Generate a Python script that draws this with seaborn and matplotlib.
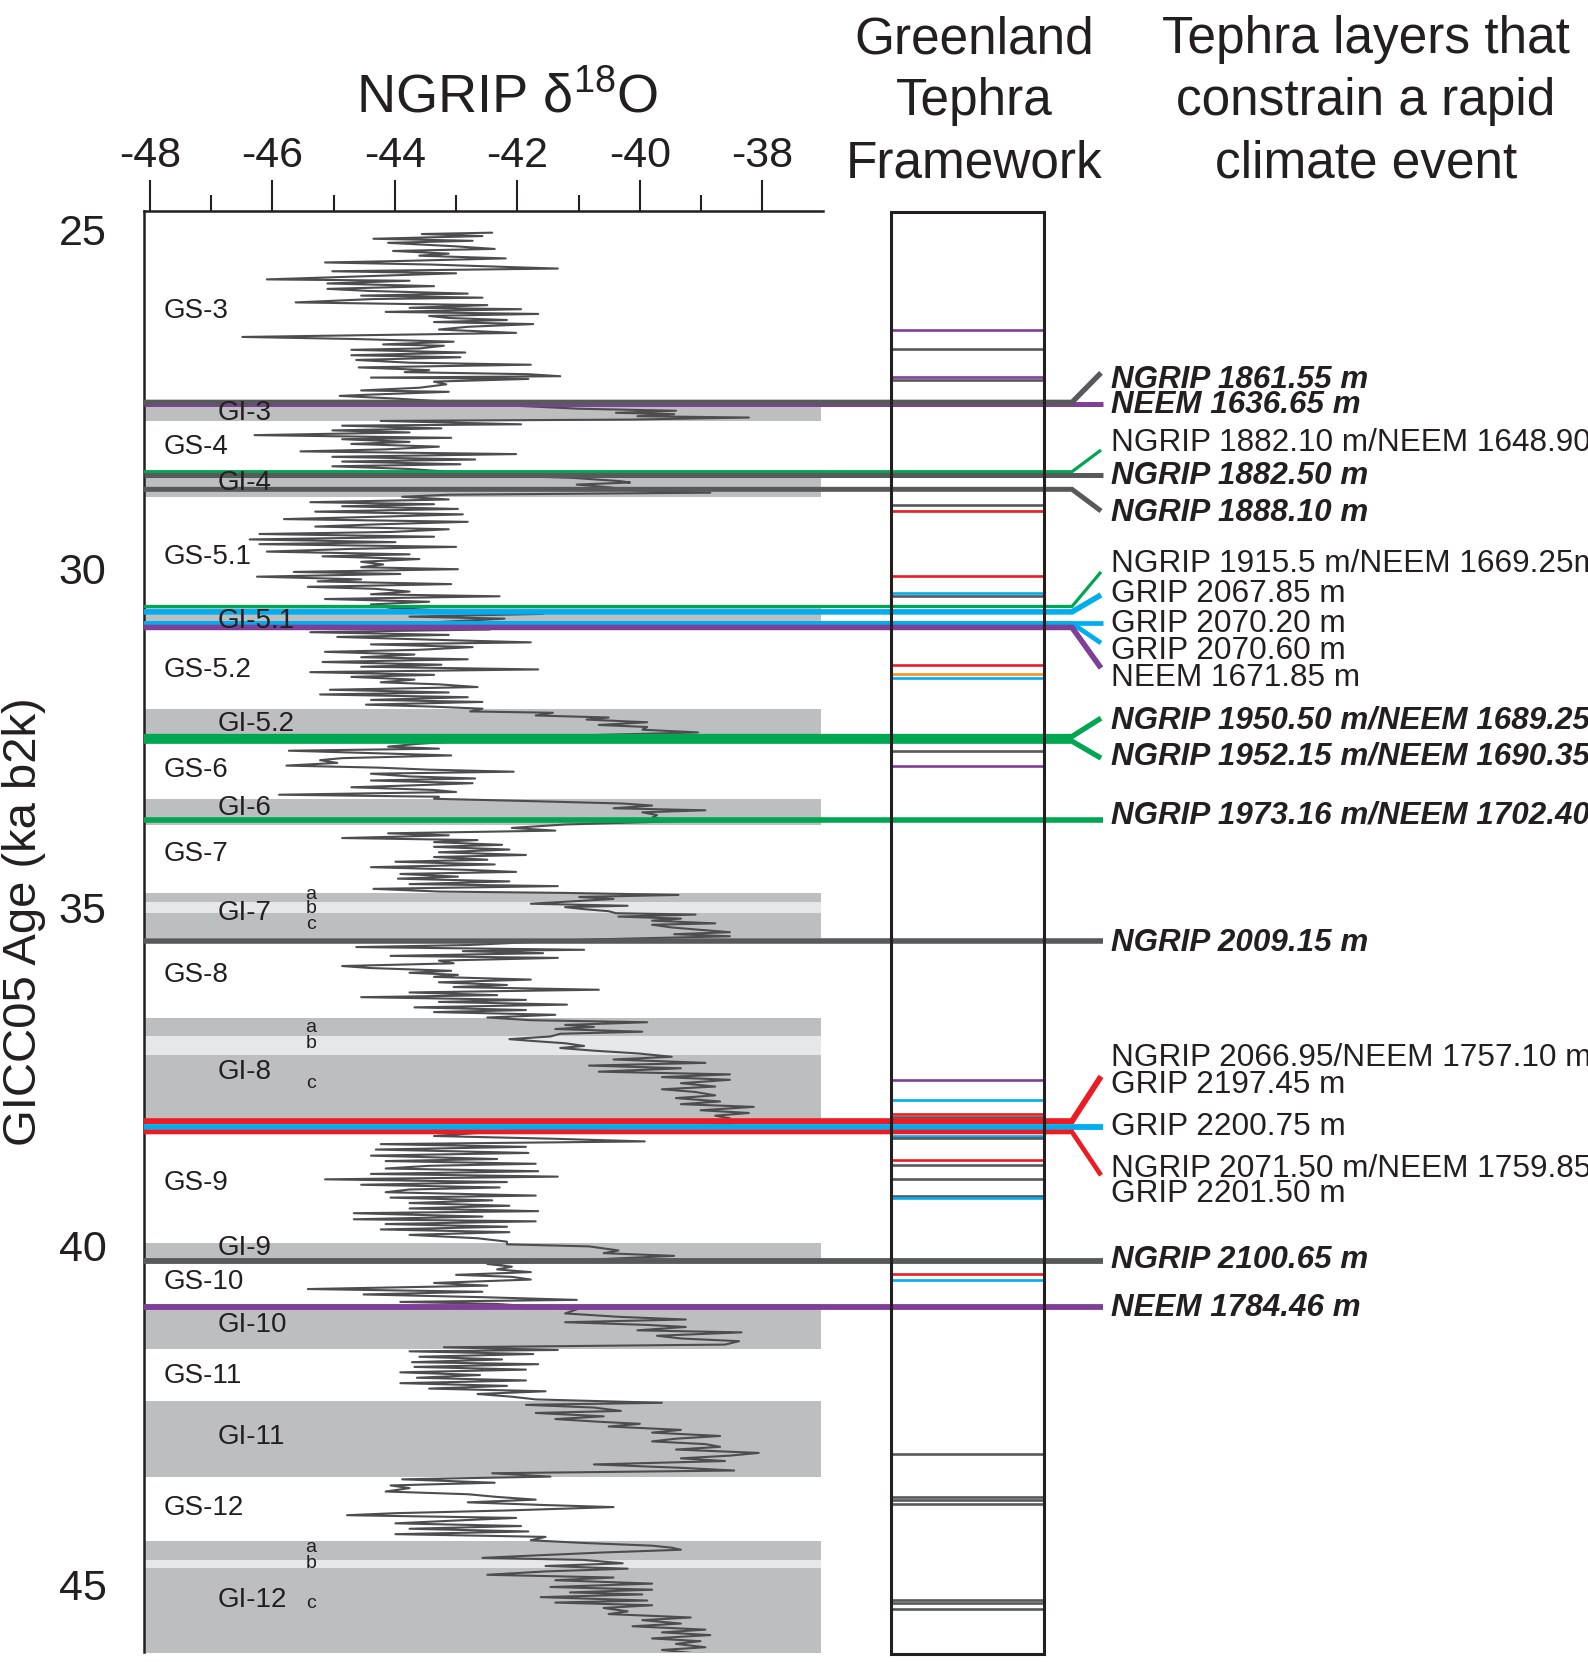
import matplotlib
matplotlib.use("Agg")
import matplotlib.pyplot as plt
import seaborn as sns
import pandas as pd
from matplotlib.patches import Rectangle
from matplotlib.ticker import FixedLocator

sns.set_style("white")
plt.rcParams['font.family'] = ['Liberation Sans', 'DejaVu Sans']
plt.rcParams['axes.unicode_minus'] = False
plt.rcParams['mathtext.fontset'] = 'custom'
plt.rcParams['mathtext.rm'] = 'Liberation Sans'
plt.rcParams['mathtext.default'] = 'regular'

W, H, DPI = 1588, 1662, 100

# ---------------- data ----------------
age = [25.04, 25.06, 25.09, 25.13, 25.16, 25.19, 25.24, 25.28, 25.31, 25.35, 25.38, 25.42, 25.46, 25.48, 25.51, 25.57, 25.61, 25.64, 25.68, 25.73,
       25.75, 25.79, 25.83, 25.87, 25.90, 25.94, 25.97, 26.00, 26.02, 26.07, 26.11, 26.15, 26.17, 26.21, 26.24, 26.27, 26.30, 26.33, 26.36, 26.39,
       26.43, 26.47, 26.52, 26.54, 26.58, 26.61, 26.65, 26.69, 26.71, 26.75, 26.77, 26.81, 26.85, 26.88, 26.92, 26.96, 26.99, 27.03, 27.07, 27.10,
       27.13, 27.16, 27.18, 27.20, 27.24, 27.28, 27.33, 27.37, 27.39, 27.43, 27.45, 27.49,
       27.60, 27.64, 27.67, 27.70, 27.72, 27.75, 27.77, 27.80, 27.82,
       27.87, 27.89, 27.93, 27.96, 27.99, 28.03, 28.07, 28.09, 28.13, 28.16, 28.20, 28.24, 28.27, 28.31, 28.35, 28.39, 28.42, 28.46, 28.49, 28.53,
       28.56, 28.62, 28.66, 28.71, 28.73, 28.76, 28.80, 28.85, 28.88, 28.91, 28.94,
       28.98, 29.02, 29.05, 29.08, 29.12, 29.16, 29.20, 29.23, 29.27, 29.31, 29.35, 29.38, 29.42, 29.46, 29.49, 29.53, 29.57, 29.61, 29.64, 29.68,
       29.71, 29.75, 29.79, 29.82, 29.86, 29.90, 29.94, 29.98, 30.01, 30.05, 30.08, 30.12, 30.16, 30.19, 30.23, 30.27, 30.30, 30.34, 30.38, 30.41,
       30.45, 30.49, 30.53,
       30.58, 30.62, 30.67, 30.71, 30.74, 30.79, 30.84, 30.90, 30.94,
       30.98, 31.01, 31.05, 31.09, 31.12, 31.16, 31.20, 31.23, 31.27, 31.31, 31.34, 31.38, 31.42, 31.45, 31.49, 31.53, 31.57, 31.60, 31.64, 31.68,
       31.71, 31.75, 31.79, 31.83, 31.86, 31.90, 31.94, 31.97, 32.01, 32.04, 32.07,
       32.11, 32.13, 32.17, 32.20, 32.23, 32.27, 32.31, 32.34, 32.38, 32.42, 32.48,
       32.59, 32.63, 32.66, 32.69, 32.72, 32.76, 32.80, 32.83, 32.87, 32.91, 32.94, 32.97, 33.00, 33.03, 33.07, 33.10, 33.13, 33.17, 33.20, 33.23,
       33.27, 33.30, 33.34, 33.37, 33.40,
       33.44, 33.47, 33.50, 33.54, 33.57, 33.60, 33.64, 33.68, 33.73, 33.78, 33.83,
       33.87, 33.91, 33.94, 33.98, 34.01, 34.04, 34.08, 34.11, 34.15, 34.19, 34.23, 34.26, 34.30, 34.33, 34.37, 34.41, 34.45, 34.48, 34.51, 34.55,
       34.58, 34.62, 34.66, 34.69, 34.73, 34.77,
       34.79, 34.82, 34.85, 34.88, 34.92, 34.95, 34.98, 35.00, 35.03, 35.06, 35.09, 35.11, 35.14, 35.17, 35.20, 35.24, 35.26, 35.30, 35.33, 35.37,
       35.40, 35.43, 35.48,
       35.56, 35.59, 35.63, 35.65, 35.68, 35.72, 35.75, 35.79, 35.83, 35.87, 35.90, 35.94, 35.97, 36.00, 36.03, 36.07, 36.11, 36.15, 36.18, 36.22,
       36.26, 36.30, 36.33, 36.37, 36.40, 36.44, 36.48, 36.52, 36.55, 36.59, 36.63,
       36.67, 36.70, 36.74, 36.77, 36.80, 36.84, 36.87, 36.91, 36.95, 36.98, 37.01, 37.05, 37.08, 37.12, 37.16, 37.21, 37.25, 37.30, 37.34, 37.38,
       37.43, 37.47, 37.51, 37.55, 37.60, 37.65, 37.69, 37.73, 37.78, 37.82, 37.87, 37.91, 37.95, 38.00, 38.04, 38.08, 38.12, 38.22, 38.30,
       38.38, 38.42, 38.46, 38.50, 38.54, 38.58, 38.63, 38.67, 38.72, 38.75, 38.79, 38.82, 38.86, 38.90, 38.94, 38.98, 39.02, 39.06, 39.10, 39.14,
       39.17, 39.21, 39.26, 39.29, 39.33, 39.37, 39.41, 39.45, 39.49, 39.52, 39.57, 39.61, 39.64, 39.68, 39.72, 39.76, 39.80, 39.84, 39.89, 39.94,
       39.98, 40.01, 40.07, 40.11, 40.15, 40.21,
       40.27, 40.31, 40.35, 40.39, 40.43, 40.46, 40.50, 40.55, 40.59, 40.64, 40.68, 40.72, 40.76, 40.80, 40.83, 40.86,
       40.94, 41.00, 41.05, 41.09, 41.13, 41.17, 41.20, 41.25, 41.28, 41.33, 41.37, 41.41, 41.46, 41.50, 41.54,
       41.56, 41.60, 41.64, 41.68, 41.72, 41.75, 41.79, 41.83, 41.87, 41.91, 41.95, 41.99, 42.03, 42.07, 42.11, 42.15, 42.19, 42.23, 42.27,
       42.32, 42.35, 42.39, 42.44, 42.47, 42.52, 42.56, 42.60, 42.63, 42.67, 42.72, 42.76, 42.81, 42.85, 42.89, 42.93, 42.97, 43.01, 43.06, 43.10,
       43.14, 43.18, 43.23, 43.28, 43.32, 43.36, 43.41,
       43.45, 43.50, 43.54, 43.58, 43.63, 43.67, 43.71, 43.75, 43.79, 43.83, 43.86, 43.91, 43.95, 43.98, 44.02, 44.06, 44.10, 44.14, 44.18, 44.22,
       44.26, 44.30, 44.35,
       44.39, 44.43, 44.46, 44.49, 44.53, 44.58, 44.61, 44.64, 44.69, 44.73, 44.77, 44.81, 44.86, 44.90, 44.94, 44.99, 45.04, 45.08, 45.12, 45.15,
       45.19, 45.24, 45.27, 45.31, 45.35, 45.40, 45.44, 45.49, 45.53, 45.58, 45.62, 45.67, 45.71, 45.75, 45.80, 45.84, 45.88, 45.93, 45.97, 46.02]

d18o = [-42.41, -43.56, -42.57, -44.35, -42.73, -44.11, -43.04, -42.37, -44.03, -43.12, -43.60, -42.19, -43.99, -45.14, -43.44, -41.34, -45.02, -43.00, -44.39, -46.09,
        -43.76, -45.10, -43.36, -45.10, -44.43, -42.81, -44.55, -42.57, -44.35, -45.62, -42.49, -43.76, -41.94, -44.15, -41.66, -43.44, -43.12, -42.17, -43.36, -41.74,
        -42.81, -43.28, -42.02, -43.44, -46.49, -44.67, -43.04, -44.19, -43.20, -43.60, -44.71, -42.85, -44.71, -42.93, -44.63, -43.76, -41.78, -44.59, -43.44, -43.84,
        -41.82, -41.30, -44.39, -41.82, -43.36, -43.16, -43.60, -44.55, -43.12, -44.35, -44.90, -43.99,
        -41.94, -40.99, -39.41, -40.39, -39.44, -40.04, -38.22, -40.12, -44.23,
        -41.94, -44.86, -43.24, -45.02, -43.76, -46.29, -43.08, -44.86, -43.76, -44.71, -43.28, -44.15, -45.54, -42.02, -45.02, -42.69, -44.86, -42.93, -45.02, -43.76,
        -43.28, -42.65, -41.11, -40.31, -40.16, -41.03, -40.51, -40.04, -38.85, -43.12, -43.88,
        -43.12, -45.38, -43.36, -44.86, -42.97, -45.30, -42.89, -44.07, -45.81, -42.81, -44.39, -45.30, -43.12, -44.07, -46.21, -43.36, -46.37, -43.99, -46.21, -43.00,
        -44.71, -46.09, -43.76, -45.18, -43.60, -44.55, -44.19, -44.55, -42.97, -45.65, -43.91, -46.25, -44.55, -45.26, -43.08, -45.42, -44.31, -43.76, -44.39, -42.29,
        -45.14, -43.44, -44.39,
        -44.07, -43.28, -41.58, -43.76, -42.21, -43.28, -42.81, -42.45, -45.38,
        -43.12, -44.94, -43.44, -41.78, -44.39, -42.73, -43.60, -45.14, -43.68, -44.55, -42.81, -45.18, -43.24, -44.55, -41.66, -45.38, -43.36, -44.71, -43.68, -44.23,
        -43.28, -42.65, -45.06, -43.12, -45.22, -42.81, -44.39, -42.57, -44.47, -43.36, -42.57,
        -42.77, -41.42, -41.70, -40.51, -40.87, -39.88, -40.67, -39.88, -39.96, -39.05, -41.70,
        -43.64, -44.11, -43.28, -45.73, -44.59, -43.08, -44.86, -45.22, -44.94, -45.77, -44.27, -43.44, -42.06, -44.39, -43.76, -42.69, -44.39, -42.73, -43.64, -44.71,
        -43.36, -43.00, -45.89, -43.28, -43.36,
        -41.54, -40.28, -39.80, -40.43, -38.93, -39.96, -39.72, -39.80, -39.33, -41.22, -42.09,
        -41.38, -44.11, -43.12, -44.86, -42.65, -43.36, -42.25, -43.36, -42.13, -43.28, -41.86, -43.36, -42.49, -43.99, -42.37, -44.39, -42.81, -42.02, -43.91, -42.97,
        -43.95, -42.13, -43.76, -41.34, -44.35, -43.28,
        -41.22, -39.37, -40.99, -40.43, -41.19, -41.78, -40.20, -41.22, -40.91, -40.51, -40.39, -39.09, -40.35, -39.33, -39.80, -38.77, -39.80, -39.48, -39.09, -38.53,
        -39.44, -38.53, -40.91,
        -42.81, -44.63, -40.91, -42.89, -41.58, -44.07, -41.34, -43.28, -43.04, -44.86, -44.39, -43.08, -43.76, -42.97, -43.36, -41.78, -43.28, -42.17, -43.04, -40.67,
        -43.76, -42.33, -44.55, -41.86, -43.28, -41.19, -43.68, -41.86, -43.36, -41.38, -42.49,
        -41.78, -39.88, -41.22, -40.75, -41.38, -39.96, -41.30, -41.46, -42.13, -41.70, -41.22, -40.91, -41.30, -40.75, -40.04, -39.48, -40.43, -38.93, -40.83, -39.33,
        -40.67, -38.53, -39.64, -38.53, -39.33, -38.77, -39.64, -39.09, -38.77, -39.41, -38.69, -39.33, -38.14, -39.01, -38.22, -38.77, -38.53, -38.53, -42.09,
        -43.36, -41.42, -39.92, -44.23, -41.86, -44.31, -41.82, -44.39, -42.33, -44.15, -41.70, -43.44, -44.15, -41.66, -44.39, -41.34, -45.14, -42.17, -44.55, -42.29,
        -43.76, -44.15, -41.70, -44.07, -42.41, -43.76, -42.13, -43.76, -41.66, -44.67, -42.57, -44.67, -41.70, -44.15, -42.17, -44.23, -42.13, -43.76, -42.65, -42.17,
        -42.17, -40.83, -40.35, -40.59, -39.44, -40.91,
        -42.49, -42.09, -42.33, -41.78, -43.00, -42.09, -41.78, -43.36, -42.49, -45.42, -42.57, -44.51, -42.57, -41.03, -43.91, -42.33,
        -41.03, -41.22, -40.35, -39.25, -41.22, -39.88, -39.25, -40.04, -38.34, -39.72, -39.33, -38.38, -38.61, -43.20, -41.34,
        -43.76, -41.74, -43.60, -42.25, -43.72, -41.66, -43.68, -41.86, -43.91, -42.61, -43.64, -41.86, -43.91, -42.17, -43.44, -41.54, -42.65, -42.09, -41.70,
        -39.64, -41.86, -40.75, -40.31, -41.70, -40.59, -41.38, -40.67, -40.00, -40.51, -39.33, -39.80, -38.69, -39.41, -39.80, -38.93, -38.69, -39.41, -38.06, -38.53,
        -39.33, -38.61, -40.75, -39.33, -38.46, -42.41, -41.46,
        -43.88, -42.37, -44.07, -43.76, -44.15, -42.81, -42.33, -41.70, -42.81, -41.54, -40.43, -42.17, -43.99, -44.78, -42.02, -43.04, -43.99, -41.94, -43.76, -41.82,
        -43.99, -41.54, -41.78,
        -40.91, -39.80, -39.48, -39.33, -40.59, -41.86, -42.57, -40.91, -40.28, -41.54, -40.20, -41.54, -42.49, -40.43, -41.38, -39.80, -41.46, -39.80, -41.14, -39.96,
        -41.62, -39.88, -41.38, -39.80, -40.59, -40.20, -40.51, -39.17, -39.96, -39.33, -40.12, -38.93, -39.64, -38.85, -39.80, -39.01, -39.41, -38.93, -39.64, -39.09]

# interstadial (grey) bands
band_start = [27.54, 28.54, 30.55, 32.08, 33.41, 34.79, 34.93, 35.08, 36.64, 36.91, 37.18, 39.96, 40.86, 42.30, 44.36, 44.64, 44.76]
band_end   = [27.82, 28.94, 30.90, 32.46, 33.78, 34.93, 35.08, 35.45, 36.91, 37.18, 38.13, 40.21, 41.53, 43.41, 44.64, 44.76, 46.05]
band_light = [False, False, False, False, False, False, True, False, False, True, False, False, False, False, False, True, False]

# event labels
gs_names = ["GS-3", "GS-4", "GS-5.1", "GS-5.2", "GS-6", "GS-7", "GS-8", "GS-9", "GS-10", "GS-11", "GS-12"]
gs_ages  = [26.20, 28.20, 29.83, 31.50, 32.98, 34.22, 36.00, 39.07, 40.54, 41.92, 43.87]
gi_names = ["GI-3", "GI-4", "GI-5.1", "GI-5.2", "GI-6", "GI-7", "GI-8", "GI-9", "GI-10", "GI-11", "GI-12"]
gi_ages  = [27.71, 28.74, 30.77, 32.29, 33.54, 35.09, 37.43, 40.04, 41.17, 42.83, 45.23]
sub_names = ["a", "b", "c", "a", "b", "c", "a", "b", "c"]
sub_ages  = [34.81, 35.02, 35.25, 36.78, 37.02, 37.60, 44.46, 44.70, 45.28]

# Greenland tephra framework (thin marks in the column)
fw_ages = [26.48, 26.76, 27.17, 27.22, 29.06, 29.15, 30.11, 30.36, 30.41, 31.42, 31.55, 31.61, 32.70, 32.91,
           37.55, 37.85, 38.05, 38.10, 38.38, 38.41, 38.74, 38.81, 39.01, 39.26, 39.30, 40.42, 40.50,
           43.07, 43.71, 43.76, 43.82, 45.23, 45.28, 45.37]
fw_kind = ["neem", "ngrip", "neem", "ngrip", "ngrip", "multi", "multi", "grip", "ngrip", "multi", "other", "grip", "ngrip", "neem",
           "neem", "grip", "multi", "ngrip", "grip", "ngrip", "multi", "ngrip", "ngrip", "ngrip", "grip", "multi", "grip",
           "ngrip", "ngrip", "ngrip", "ngrip", "ngrip", "ngrip", "ngrip"]

# tephra layers constraining rapid climate events: age, kind, width(pt), connector end age
ev_ages  = [27.565, 27.545, 28.57, 28.62, 28.83, 30.56, 30.64, 30.80, 30.81, 30.87, 32.48, 32.55, 33.715, 35.50, 38.16, 38.25, 38.32, 40.22, 40.90]
ev_kind  = ["neem", "ngrip", "green", "ngrip", "ngrip", "green", "grip", "grip", "grip", "neem", "green", "green", "green", "ngrip", "multi", "grip", "multi", "ngrip", "neem"]
ev_width = [3.6, 3.8, 2.3, 3.6, 3.6, 2.3, 4.0, 3.4, 3.4, 4.0, 3.8, 3.8, 4.0, 4.0, 4.2, 4.2, 3.4, 4.2, 4.2]
ev_end   = [27.565, 27.11, 28.25, 28.62, 29.15, 30.05, 30.39, 30.80, 31.10, 31.47, 32.21, 32.80, 33.715, 35.50, 37.50, 38.25, 38.96, 40.22, 40.90]

lab_text = ["NGRIP 1861.55 m", "NEEM 1636.65 m", "NGRIP 1882.10 m/NEEM 1648.90 m", "NGRIP 1882.50 m", "NGRIP 1888.10 m",
            "NGRIP 1915.5 m/NEEM 1669.25m", "GRIP 2067.85 m", "GRIP 2070.20 m", "GRIP 2070.60 m", "NEEM 1671.85 m",
            "NGRIP 1950.50 m/NEEM 1689.25 m", "NGRIP 1952.15 m/NEEM 1690.35 m", "NGRIP 1973.16 m/NEEM 1702.40 m",
            "NGRIP 2009.15 m", "NGRIP 2066.95/NEEM 1757.10 m", "GRIP 2197.45 m", "GRIP 2200.75 m",
            "NGRIP 2071.50 m/NEEM 1759.85 m", "GRIP 2201.50 m", "NGRIP 2100.65 m", "NEEM 1784.46 m"]
lab_ages = [27.21, 27.59, 28.15, 28.63, 29.18, 29.93, 30.37, 30.82, 31.22, 31.62, 32.24, 32.78, 33.64, 35.53,
            37.23, 37.63, 38.25, 38.86, 39.24, 40.21, 40.92]
lab_bold = [True, True, False, True, True, False, False, False, False, False, True, True, True, True,
            False, False, False, False, False, True, True]

# ---------------- styles ----------------
COL = {"ngrip": "#58595B", "neem": "#7F3F98", "green": "#00A651", "grip": "#00AEEF",
       "multi": "#ED1C24", "other": "#F7941D"}
TXT = "#231F20"
CURVE = "#4D4D4F"
BAND_D = "#BDBEC0"
BAND_L = "#E6E7E8"

fig = plt.figure(figsize=(W / DPI, H / DPI), dpi=DPI)

def fx(px):
    return px / W

def fy(py):
    return 1 - py / H

AX_L, AX_R, AX_T, AX_B = 144, 823, 211, 1652
YLIM = (46.0, 24.72)
XLIM = (-48.095, -37.01)

ax = fig.add_axes([fx(AX_L), fy(AX_B), (AX_R - AX_L) / W, (AX_B - AX_T) / H])
ax.set_xlim(*XLIM)
ax.set_ylim(*YLIM)

# bands
for s, e, light in zip(band_start, band_end, band_light):
    ax.fill_betweenx([s, e], XLIM[0], -37.05, color=BAND_L if light else BAND_D, lw=0, zorder=0.5)

df = pd.DataFrame({"age": age, "d18o": d18o})
sns.lineplot(data=df, x="d18o", y="age", sort=False, estimator=None, color=CURVE, lw=1.5, ax=ax, zorder=2)
ax.set_xlabel("")
ax.set_ylabel("")

# axes style
for side in ["right", "bottom"]:
    ax.spines[side].set_visible(False)
for side in ["left", "top"]:
    ax.spines[side].set_visible(True)
    ax.spines[side].set_linewidth(1.8)
    ax.spines[side].set_color(TXT)
ax.xaxis.tick_top()
ax.set_xticks([-48, -46, -44, -42, -40, -38])
ax.xaxis.set_minor_locator(FixedLocator([-47, -45, -43, -41, -39, -37]))
ax.set_yticks([25, 30, 35, 40, 45])
ax.yaxis.set_minor_locator(FixedLocator([v for v in range(26, 45) if v % 5 != 0]))
ax.tick_params(axis="x", which="major", direction="out", length=22, width=1.5, labelsize=31, pad=3, colors=TXT)
ax.tick_params(axis="x", which="minor", direction="out", length=11.5, width=1.5, colors=TXT)
ax.tick_params(axis="y", which="major", direction="out", length=21, width=1.5, labelsize=31, pad=6, colors=TXT)
ax.tick_params(axis="y", which="minor", direction="out", length=12, width=1.5, colors=TXT)
ax.grid(False)
ax.patch.set_alpha(0)

# overlay axes in pixel x units with same age scale
ov = fig.add_axes([0, fy(AX_B), 1, (AX_B - AX_T) / H])
ov.set_xlim(0, W)
ov.set_ylim(*YLIM)
ov.axis("off")
ov.patch.set_alpha(0)

BOX_L, BOX_R = 891, 1044
BRANCH_X, END_X, LABEL_X = 1072, 1103, 1111

for a, k in zip(fw_ages, fw_kind):
    ov.plot([BOX_L, BOX_R], [a, a], color=COL[k], lw=1.9, solid_capstyle="butt", zorder=3)

for a, k, w, e in zip(ev_ages, ev_kind, ev_width, ev_end):
    if abs(e - a) < 1e-6:
        xs, ys = [AX_L, END_X], [a, a]
    else:
        xs, ys = [AX_L, BRANCH_X, END_X - 2], [a, a, e]
    ov.plot(xs, ys, color=COL[k], lw=w, solid_capstyle="butt", solid_joinstyle="miter", zorder=4, clip_on=False)

# stadial / interstadial labels drawn above the tephra lines (in the main axes' data coordinates)
for n, a in zip(gs_names, gs_ages):
    ov.text(-47.77, a, n, fontsize=20, color=TXT, ha="left", va="center", zorder=7, transform=ax.transData)
for n, a in zip(gi_names, gi_ages):
    ov.text(-46.89, a, n, fontsize=20, color=TXT, ha="left", va="center", zorder=7, transform=ax.transData)
for n, a in zip(sub_names, sub_ages):
    ov.text(-45.37, a, n, fontsize=14, color=TXT, ha="center", va="center", zorder=7, transform=ax.transData)

# framework column box
y_top = 24.73
y_bot = 46.03
ov.add_patch(Rectangle((BOX_L, y_bot), BOX_R - BOX_L, y_top - y_bot, fill=False,
                       ec=TXT, lw=2.2, zorder=5, clip_on=False))

for t, a, b in zip(lab_text, lab_ages, lab_bold):
    ov.text(LABEL_X, a, t, fontsize=22.6 if b else 22.7, color=TXT, ha="left", va="center",
            fontweight="bold" if b else "normal", fontstyle="italic" if b else "normal",
            clip_on=False, zorder=6)

# headings
fig.text(fx(507), fy(112), "NGRIP δ$^{18}$O", fontsize=39, color=TXT, ha="center", va="baseline")
for i, line in enumerate(["Greenland", "Tephra", "Framework"]):
    fig.text(fx(974), fy(53 + 62 * i), line, fontsize=37, color=TXT, ha="center", va="baseline")
for i, line in enumerate(["Tephra layers that", "constrain a rapid", "climate event"]):
    fig.text(fx(1366), fy(53 + 62 * i), line, fontsize=37, color=TXT, ha="center", va="baseline")

fig.text(fx(24), fy(922), "GICC05 Age (ka b2k)", fontsize=34, color=TXT, ha="center", va="center", rotation=90)

fig.savefig("out.png", dpi=DPI)
